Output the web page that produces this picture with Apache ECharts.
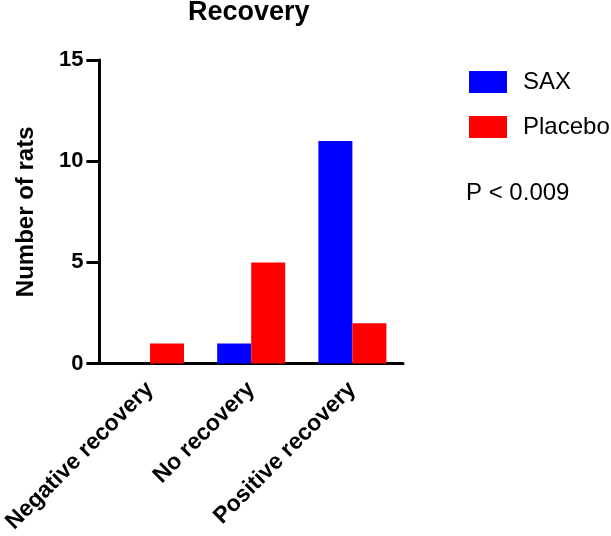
<!DOCTYPE html>
<html>
<head>
<meta charset="utf-8">
<script src="https://cdn.jsdelivr.net/npm/echarts@6/dist/echarts.min.js"></script>
<style>html,body{margin:0;padding:0;background:#fff;}#c{width:611px;height:536px;}</style>
</head>
<body>
<div id="c"></div>
<script>
const categories = ['Negative recovery', 'No recovery', 'Positive recovery'];
const saxValues = [0, 1, 11];
const placeboValues = [1, 5, 2];
const yTicks = [0, 5, 10, 15];
const seriesNames = ['SAX', 'Placebo'];

const FONT = '"Liberation Sans", Arial, Helvetica, sans-serif';
const chart = echarts.init(document.getElementById('c'), null, {renderer: 'canvas'});
chart.setOption({
  animation: false,
  backgroundColor: '#ffffff',
  title: {
    text: 'Recovery',
    left: 188, top: -1, padding: 0,
    textStyle: {fontFamily: FONT, fontWeight: 'bold', fontSize: 27, color: '#000'}
  },
  legend: {
    orient: 'vertical',
    left: 469, top: 70, padding: 0,
    itemWidth: 38, itemHeight: 22, itemGap: 21,
    icon: 'rect',
    data: seriesNames,
    textStyle: {fontFamily: FONT, fontSize: 24, color: '#000', padding: [0, 0, 0, 11]}
  },
  graphic: [{
    type: 'text', left: 466, top: 181,
    style: {text: 'P < 0.009', font: '24px ' + FONT, fill: '#000'}
  }],
  grid: {left: 97, right: 208, top: 60, bottom: 171},
  xAxis: {
    type: 'category',
    data: categories,
    axisLine: {lineStyle: {color: '#000', width: 3}},
    axisTick: {alignWithLabel: true, length: 13, lineStyle: {color: '#000', width: 3}},
    axisLabel: {rotate: 45, margin: 22, fontFamily: FONT, fontWeight: 'bold', fontSize: 23, color: '#000', interval: 0}
  },
  yAxis: {
    type: 'value',
    min: yTicks[0], max: yTicks[yTicks.length - 1], interval: 5,
    name: 'Number of rats',
    nameLocation: 'middle', nameGap: 61, nameRotate: 90,
    nameTextStyle: {fontFamily: FONT, fontWeight: 'bold', fontSize: 24, color: '#000'},
    splitLine: {show: false},
    axisLine: {show: true, lineStyle: {color: '#000', width: 3}},
    axisTick: {show: true, length: 13, lineStyle: {color: '#000', width: 3}},
    axisLabel: {margin: 16, fontFamily: FONT, fontWeight: 'bold', fontSize: 22, color: '#000'}
  },
  series: [
    {name: seriesNames[0], type: 'bar', data: saxValues, barWidth: 34, barGap: '0%', itemStyle: {color: '#0000ff'}},
    {name: seriesNames[1], type: 'bar', data: placeboValues, barWidth: 34, barGap: '0%', itemStyle: {color: '#ff0000'}}
  ]
});
</script>
</body>
</html>
